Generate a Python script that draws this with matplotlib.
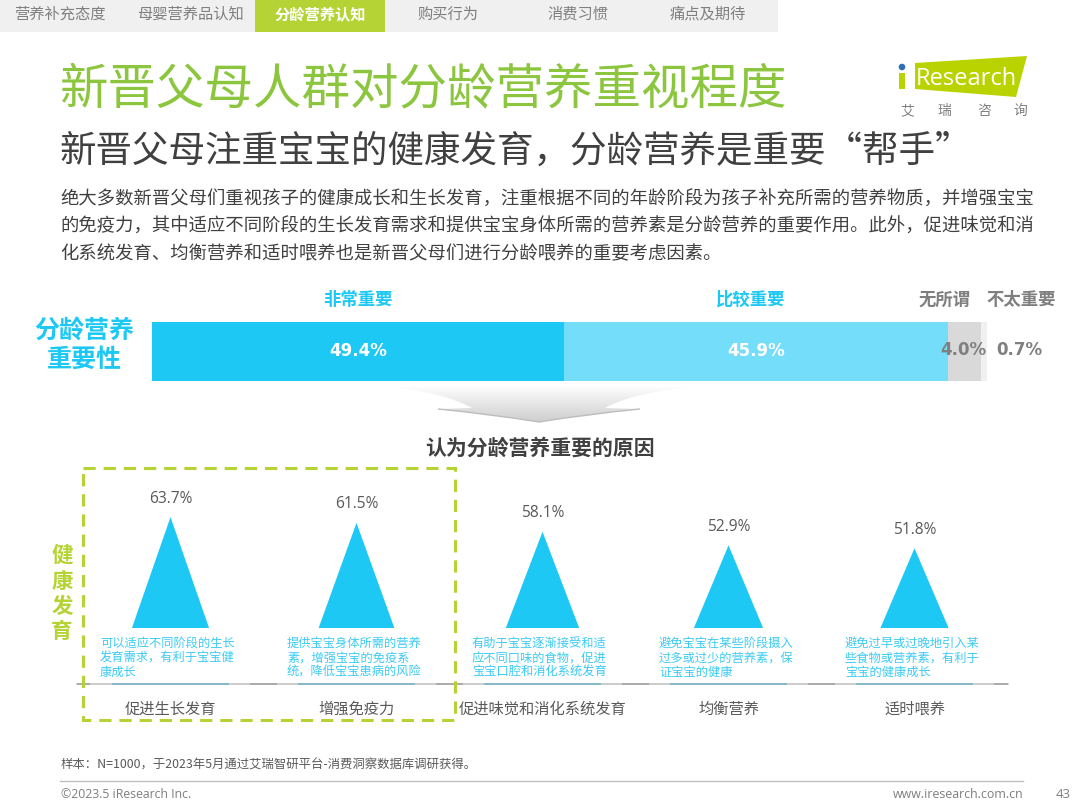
import matplotlib
matplotlib.use('Agg')
import matplotlib.pyplot as plt
from matplotlib.patches import Polygon, Rectangle, PathPatch
from matplotlib.path import Path
import numpy as np

plt.rcParams['font.family'] = ['Noto Sans CJK SC', 'DejaVu Sans']

# data
importance_labels = ['非常重要', '比较重要', '无所谓', '不太重要']
importance_values = [49.4, 45.9, 4.0, 0.7]
reason_labels = ['促进生长发育', '增强免疫力', '促进味觉和消化系统发育', '均衡营养', '适时喂养']
reason_values = [63.7, 61.5, 58.1, 52.9, 51.8]
reason_notes = [
    ['可以适应不同阶段的生长', '发育需求，有利于宝宝健', '康成长'],
    ['提供宝宝身体所需的营养', '素，增强宝宝的免疫系', '统，降低宝宝患病的风险'],
    ['有助于宝宝逐渐接受和适', '应不同口味的食物，促进', '宝宝口腔和消化系统发育'],
    ['避免宝宝在某些阶段摄入', '过多或过少的营养素，保', '证宝宝的健康'],
    ['避免过早或过晚地引入某', '些食物或营养素，有利于', '宝宝的健康成长'],
]
tab_labels = ['营养补充态度', '母婴营养品认知', '分龄营养认知', '购买行为', '消费习惯', '痛点及期待']
paragraph = [
    '绝大多数新晋父母们重视孩子的健康成长和生长发育，注重根据不同的年龄阶段为孩子补充所需的营养物质，并增强宝宝',
    '的免疫力，其中适应不同阶段的生长发育需求和提供宝宝身体所需的营养素是分龄营养的重要作用。此外，促进味觉和消',
    '化系统发育、均衡营养和适时喂养也是新晋父母们进行分龄喂养的重要考虑因素。',
]

W, H = 1080, 809
CYAN = '#1EC8F4'
LIGHT_CYAN = '#74DDF9'
GREEN = '#B5D334'
GRAY = '#7F7F7F'

fig = plt.figure(figsize=(W / 100, H / 100), dpi=100, facecolor='white')


def pixel_axes(x0, y0, x1, y1):
    # axes placed with pixel coords measured from the top left
    return fig.add_axes([x0 / W, 1 - y1 / H, (x1 - x0) / W, (y1 - y0) / H])


def layer():
    # full figure axes in pixel coords
    ax = fig.add_axes([0, 0, 1, 1])
    ax.set_xlim(0, W)
    ax.set_ylim(H, 0)
    ax.axis('off')
    return ax


bg = layer()

# tabs
bg.add_patch(Rectangle((0, 0), 778, 32, color='#F0F0F0', lw=0))
bg.add_patch(Rectangle((255, 0), 130, 32, color='#B5D334', lw=0))
tab_x = [60, 190, 320, 448, 578, 708]
for i, (name, x) in enumerate(zip(tab_labels, tab_x)):
    active = i == 2
    bg.text(x, 14, name, ha='center', va='center', fontsize=11,
            color='white' if active else '#7F7F7F',
            fontweight='bold' if active else 'normal')

# titles
bg.text(59, 90, '新晋父母人群对分龄营养重视程度', fontsize=34.9, color='#8CC63F',
        va='center', ha='left')
bg.text(59, 152, '新晋父母注重宝宝的健康发育，分龄营养是重要“帮手”', fontsize=26.3,
        color='#404040', va='center', ha='left')
for i, line in enumerate(paragraph):
    bg.text(60, 200 + i * 27, line, fontsize=13.2, color='#404040', va='center', ha='left')

# logo
bg.add_patch(Polygon([(915, 63), (1027, 56), (1016, 97), (915, 89)], color='#B9D300', lw=0))
bg.add_patch(plt.Circle((902, 67), 3.3, color='#2F6DB5', lw=0))
bg.add_patch(Rectangle((899, 73), 5.5, 16, color='#B9D300', lw=0))
bg.text(916, 79, 'Research', fontsize=17, color='white', va='center', ha='left',
        family='Open Sans')
for x, ch in zip([907, 944, 984, 1020], '艾瑞咨询'):
    bg.text(x, 111, ch, fontsize=10, color='#7F7F7F', ha='center', va='center')

# side label of the bar
bg.text(84, 331, '分龄营养', fontsize=18, color=CYAN, fontweight='bold', ha='center', va='center')
bg.text(84, 360, '重要性', fontsize=18, color=CYAN, fontweight='bold', ha='center', va='center')

# stacked bar
ax_bar = pixel_axes(152, 322, 987, 381)
ax_bar.set_xlim(0, sum(importance_values))
ax_bar.set_ylim(0, 1)
ax_bar.axis('off')
bar_colors = [CYAN, LIGHT_CYAN, '#D9D9D9', '#F0F0F0']
left = 0
lefts = []
for val, col in zip(importance_values, bar_colors):
    ax_bar.barh(0.5, val, left=left, height=1, color=col, lw=0)
    lefts.append(left)
    left += val
for i in (0, 1):
    ax_bar.text(lefts[i] + importance_values[i] / 2, 0.5, f'{importance_values[i]:.1f}%',
                color='white', fontsize=12, fontweight='bold', ha='center', va='center',
                family='DejaVu Sans')
header_x = [358, 750, 945, 1021]
header_c = [CYAN, CYAN, GRAY, GRAY]
for name, x, c in zip(importance_labels, header_x, header_c):
    bg.text(x, 300, name, fontsize=12.5, color=c, fontweight='bold', ha='center', va='center')

# chevron arrow with vertical gradient
MV, CV, LN = Path.MOVETO, Path.CURVE3, Path.LINETO
verts = [(393, 387), (445, 393), (472, 408), (438, 409), (490, 414), (539, 422), (588, 414),
         (640, 409), (605, 408), (632, 393), (690, 387), (393, 387)]
codes = [MV, CV, CV, LN, CV, CV, CV, CV, LN, CV, CV, LN]
chevron = PathPatch(Path(verts, codes), transform=bg.transData, fc='none', ec='none')
bg.add_patch(chevron)
grad = np.linspace(1, 0.8, 64).reshape(-1, 1)
im = bg.imshow(grad, extent=(393, 690, 423, 385), cmap='gray', vmin=0, vmax=1, aspect='auto')
im.set_clip_path(chevron)
bg.set_xlim(0, W)
bg.set_ylim(H, 0)
# darker lower edge of the arrow
edge = Path([(438, 409), (490, 414), (539, 422), (588, 414), (640, 409)], [MV, CV, CV, CV, CV])
bg.add_patch(PathPatch(edge, fc='none', ec='#BDBDBD', lw=1))

bg.text(540, 448, '认为分龄营养重要的原因', fontsize=15, color='#404040', fontweight='bold',
        ha='center', va='center')

# triangles
PX_PER_PCT = 2.62
tri_top = 684 - 70 * PX_PER_PCT
ax_tri = pixel_axes(77.5, tri_top, 1007.5, 684)
ax_tri.patch.set_alpha(0)
ax_tri.set_xlim(-0.5, 4.5)
ax_tri.set_ylim(0, 70)
half = 0.312
for i, v in enumerate(reason_values):
    ax_tri.fill([i - half, i, i + half], [0, v, 0], color=CYAN, lw=0)
    ax_tri.annotate(f'{v}%', (i, v), xytext=(0, 7.5), textcoords='offset points', ha='center',
                    va='bottom', fontsize=11.2, color='#595959', family='Open Sans')
    # white box hides the lower part of each triangle behind the note
    ax_tri.add_patch(Rectangle((i - 0.42, 0.5), 0.84, 21, color='white', lw=0, zorder=3))
    # base of the triangle stays visible on the axis line
    ax_tri.hlines(0, i - half, i + half, color='#7FB6C8', lw=1.2, clip_on=False, zorder=4)
    ax_tri.hlines(0, i + 0.425, min(i + 0.575, 4.5), color='#A6A6A6', lw=1.2, clip_on=False, zorder=4)
ax_tri.hlines(0, -0.5, -0.435, color='#A6A6A6', lw=1.2, clip_on=False, zorder=4)
ax_tri.set_xticks(range(len(reason_labels)))
ax_tri.set_xticklabels(reason_labels, fontsize=11, color='#595959')
ax_tri.tick_params(axis='x', length=0, pad=12)
ax_tri.set_yticks([])
for s in ('top', 'left', 'right'):
    ax_tri.spines[s].set_visible(False)
ax_tri.spines['bottom'].set_color('#C4C4C4')
ax_tri.spines['bottom'].set_linewidth(1.2)

# top layer
fg = layer()
fg.patch.set_alpha(0)

fg.text(963, 350, f'{importance_values[2]:.1f}%', color=GRAY, fontsize=12, fontweight='bold',
        ha='center', va='center', family='DejaVu Sans')
fg.text(1019, 350, f'{importance_values[3]:.1f}%', color=GRAY, fontsize=12, fontweight='bold',
        ha='center', va='center', family='DejaVu Sans')

note_x = [100, 287, 472, 659, 845]
for x, note in zip(note_x, reason_notes):
    for j, line in enumerate(note):
        fg.text(x, 643 + j * 14.7, line, fontsize=8.8, color='#3CCBF4', ha='left', va='center')

# dashed box, health label
fg.add_patch(Rectangle((83, 468), 372, 252, fill=False, ec=GREEN, lw=2.2,
                       linestyle=(0, (4, 2.6))))
for y, ch in zip([555, 582, 607, 632], '健康发育'):
    fg.text(62, y, ch, fontsize=15.5, color=GREEN, fontweight='bold', ha='center', va='center')

# footer
fg.text(61, 765, '样本：N=1000，于2023年5月通过艾瑞智研平台-消费洞察数据库调研获得。', fontsize=8.9,
        color='#595959', ha='left', va='center')
fg.plot([60, 1023], [781, 781], color='#BFBFBF', lw=1)
fg.text(61, 794, '©2023.5 iResearch Inc.', fontsize=8.8, color='#7F7F7F', ha='left', va='center',
        family='Open Sans')
fg.text(1023, 794, 'www.iresearch.com.cn', fontsize=8.9, color='#7F7F7F', ha='right', va='center',
        family='Open Sans')
fg.text(1063, 794, '43', fontsize=9.5, color='#7F7F7F', ha='center', va='center', family='Open Sans')

fig.savefig('out.png', dpi=100)
